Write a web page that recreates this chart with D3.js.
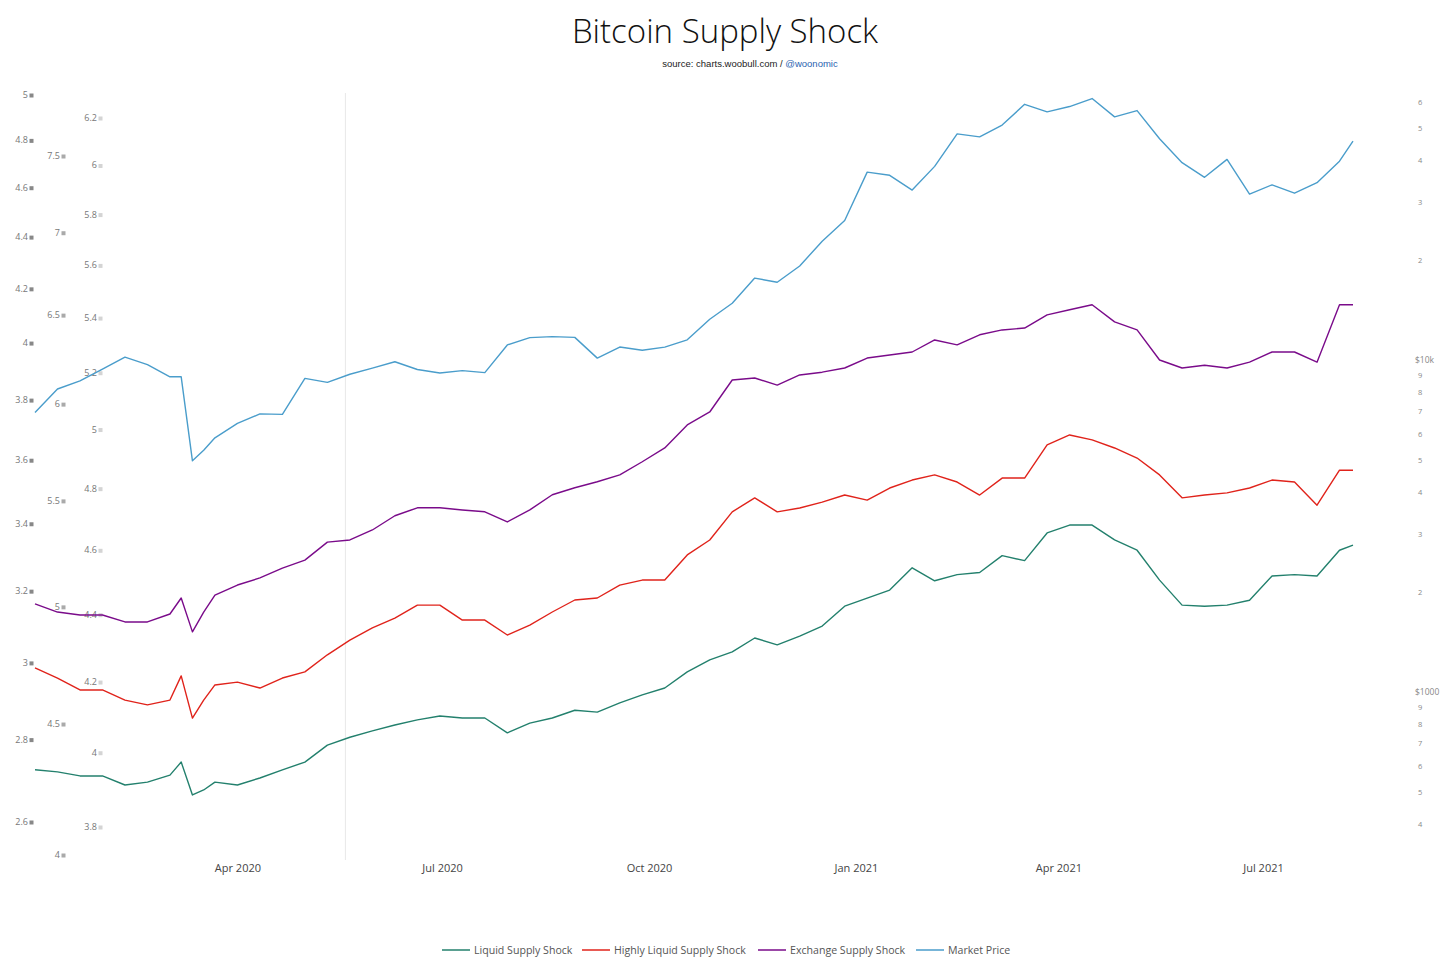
<!DOCTYPE html>
<html>
<head>
<meta charset="utf-8">
<script src="https://cdn.jsdelivr.net/npm/d3@7"></script>
<style>
  body { margin: 0; background: #fff; }
  svg { display: block; }
</style>
</head>
<body>
<div id="chart"></div>
<script>
// sample dates (every ~10 days, a few extra around the March 2020 crash)
const dates = [
  "2020-01-02","2020-01-12","2020-01-22","2020-02-01","2020-02-11","2020-02-21","2020-03-02","2020-03-07",
  "2020-03-12","2020-03-17","2020-03-22","2020-04-01","2020-04-11","2020-04-21","2020-05-01","2020-05-11",
  "2020-05-21","2020-05-31","2020-06-10","2020-06-20","2020-06-30","2020-07-10","2020-07-20","2020-07-30",
  "2020-08-09","2020-08-19","2020-08-29","2020-09-08","2020-09-18","2020-09-28","2020-10-08","2020-10-18",
  "2020-10-28","2020-11-07","2020-11-17","2020-11-27","2020-12-07","2020-12-17","2020-12-27","2021-01-06",
  "2021-01-16","2021-01-26","2021-02-05","2021-02-15","2021-02-25","2021-03-07","2021-03-17","2021-03-27",
  "2021-04-06","2021-04-16","2021-04-26","2021-05-06","2021-05-16","2021-05-26","2021-06-05","2021-06-15",
  "2021-06-25","2021-07-05","2021-07-15","2021-07-25","2021-08-04","2021-08-10"
];

const liquidShock = [
  2.725,2.720,2.710,2.710,2.688,2.695,2.712,2.744,
  2.664,2.676,2.695,2.688,2.705,2.725,2.744,2.786,
  2.806,2.822,2.837,2.850,2.860,2.855,2.855,2.817,
  2.842,2.855,2.875,2.870,2.894,2.915,2.933,2.976,
  3.008,3.030,3.068,3.049,3.073,3.101,3.157,3.180,
  3.203,3.268,3.230,3.248,3.254,3.304,3.289,3.372,
  3.396,3.396,3.351,3.320,3.232,3.160,3.157,3.160,
  3.174,3.244,3.248,3.244,3.320,3.335
];

const highlyLiquidShock = [
  4.733,4.690,4.640,4.640,4.598,4.578,4.598,4.699,
  4.524,4.598,4.661,4.673,4.648,4.690,4.716,4.789,
  4.853,4.906,4.950,5.008,5.008,4.941,4.941,4.875,
  4.919,4.977,5.031,5.040,5.099,5.122,5.122,5.239,
  5.310,5.446,5.515,5.446,5.465,5.494,5.529,5.504,
  5.564,5.604,5.630,5.594,5.529,5.614,5.614,5.784,
  5.836,5.810,5.768,5.716,5.630,5.515,5.529,5.540,
  5.564,5.604,5.594,5.479,5.654,5.654
];

const exchangeShock = [
  4.433,4.408,4.399,4.399,4.378,4.378,4.402,4.451,
  4.348,4.408,4.460,4.491,4.513,4.544,4.569,4.626,
  4.633,4.665,4.711,4.737,4.737,4.730,4.724,4.691,
  4.730,4.780,4.803,4.823,4.846,4.890,4.937,5.016,
  5.061,5.174,5.181,5.156,5.192,5.202,5.217,5.253,
  5.264,5.275,5.319,5.301,5.338,5.356,5.363,5.412,
  5.431,5.450,5.386,5.356,5.246,5.217,5.227,5.217,
  5.238,5.275,5.275,5.238,5.450,5.450
];

const marketPrice = [
  6950,8180,8650,9390,10200,9690,8900,8900,
  4970,5350,5830,6440,6880,6860,8800,8560,
  9060,9450,9880,9360,9140,9290,9160,11100,
  11680,11760,11700,10130,10940,10700,10930,11500,
  13270,14820,17650,17150,19190,22800,26300,36800,
  36000,32500,38300,48000,47000,51000,58900,55900,
  58000,61300,54000,56400,46400,39300,35500,40200,
  31600,33700,31800,34200,39700,45600
];

const halvingDate = "2020-05-19";

const liquidTicks = [2.6,2.8,3,3.2,3.4,3.6,3.8,4,4.2,4.4,4.6,4.8,5];
const highlyTicks = [4,4.5,5,5.5,6,6.5,7,7.5];
const exchangeTicks = [3.8,4,4.2,4.4,4.6,4.8,5,5.2,5.4,5.6,5.8,6,6.2];
const priceTicks = [400,500,600,700,800,900,1000,2000,3000,4000,5000,6000,7000,8000,9000,10000,20000,30000,40000,50000,60000];

const seriesNames = ["Liquid Supply Shock","Highly Liquid Supply Shock","Exchange Supply Shock","Market Price"];
const colors = { "Liquid Supply Shock": "#23806d", "Highly Liquid Supply Shock": "#e0231b",
                 "Exchange Supply Shock": "#7a0b8a", "Market Price": "#4a9dcb" };

const W = 1456, H = 965;
const parse = d3.timeParse("%Y-%m-%d");
const dts = dates.map(parse);

const svg = d3.select("#chart").append("svg").attr("width", W).attr("height", H)
  .attr("font-family", "'Open Sans', sans-serif");

const x = d3.scaleTime().domain([parse("2020-01-02"), parse("2021-08-10")]).range([35, 1353]);
const yLiquid = d3.scaleLog().domain([2.6, 5]).range([822, 95]);
const yHighly = d3.scaleLog().domain([4, 7.5]).range([855, 156]);
const yExchange = d3.scaleLog().domain([3.8, 6.2]).range([827, 118]);
const yPrice = d3.scaleLog().domain([1000, 10000]).range([692, 360]);

// title
svg.append("text").attr("x", 725).attr("y", 43).attr("text-anchor", "middle")
  .attr("font-size", 33).attr("font-weight", 300).attr("fill", "#111").text("Bitcoin Supply Shock");
const sub = svg.append("text").attr("x", 750).attr("y", 67).attr("text-anchor", "middle")
  .attr("font-size", 9.5).attr("font-family", "'Liberation Sans', Arial, sans-serif").attr("fill", "#222");
sub.append("tspan").text("source: charts.woobull.com / ");
sub.append("tspan").attr("fill", "#2a64b0").text("@woonomic");

// halving line
svg.append("line").attr("x1", x(parse(halvingDate))).attr("x2", x(parse(halvingDate)))
  .attr("y1", 93).attr("y2", 860).attr("stroke", "#e8e8e8").attr("stroke-width", 1);

// left axes (text + small square marker)
function leftAxis(ticks, scale, xText, sqColor) {
  const g = svg.append("g");
  ticks.forEach(t => {
    g.append("text").attr("x", xText).attr("y", scale(t) + 3).attr("text-anchor", "end")
      .attr("font-size", 9).attr("fill", "#777").text(d3.format("")(t));
    g.append("rect").attr("x", xText + 1.5).attr("y", scale(t) - 1.5).attr("width", 4).attr("height", 4)
      .attr("fill", sqColor);
  });
}
leftAxis(liquidTicks, yLiquid, 28, "#888");
leftAxis(highlyTicks, yHighly, 60, "#aaa");
leftAxis(exchangeTicks, yExchange, 97, "#d4d4d4");

// right price axis
const rg = svg.append("g");
priceTicks.forEach(t => {
  let label, fs = 7.5;
  if (t === 1000) { label = "$1000"; fs = 8.5; }
  else if (t === 10000) { label = "$10k"; fs = 8.5; }
  else label = String(t).charAt(0);
  rg.append("text").attr("x", t === 1000 || t === 10000 ? 1415 : 1418).attr("y", yPrice(t) + 3)
    .attr("font-size", fs).attr("fill", "#888").text(label);
});

// x axis
const xAxis = d3.axisBottom(x)
  .tickValues([parse("2020-04-01"), parse("2020-07-01"), parse("2020-10-01"), parse("2021-01-01"), parse("2021-04-01"), parse("2021-07-01")])
  .tickFormat(d3.timeFormat("%b %Y")).tickSize(0).tickPadding(0);
const xg = svg.append("g").attr("transform", "translate(0,864)").call(xAxis);
xg.select(".domain").remove();
xg.selectAll("text").attr("font-size", 11).attr("fill", "#444").attr("font-family", "'Open Sans', sans-serif");

// lines
const seriesDefs = [
  { name: seriesNames[0], values: liquidShock, y: yLiquid },
  { name: seriesNames[1], values: highlyLiquidShock, y: yHighly },
  { name: seriesNames[2], values: exchangeShock, y: yExchange },
  { name: seriesNames[3], values: marketPrice, y: yPrice }
];
seriesDefs.forEach(s => {
  const line = d3.line().x((d, i) => x(dts[i])).y(d => s.y(d));
  svg.append("path").datum(s.values).attr("fill", "none").attr("stroke", colors[s.name])
    .attr("stroke-width", 1.4).attr("stroke-linejoin", "round").attr("d", line);
});

// legend
const legendX = [442, 582, 758, 916];
const lg = svg.append("g").attr("transform", "translate(0,950)");
seriesNames.forEach((n, i) => {
  lg.append("line").attr("x1", legendX[i]).attr("x2", legendX[i] + 28).attr("y1", 0).attr("y2", 0)
    .attr("stroke", colors[n]).attr("stroke-width", 1.5);
  lg.append("text").attr("x", legendX[i] + 32).attr("y", 4).attr("font-size", 10.6).attr("fill", "#555").text(n);
});
</script>
</body>
</html>
